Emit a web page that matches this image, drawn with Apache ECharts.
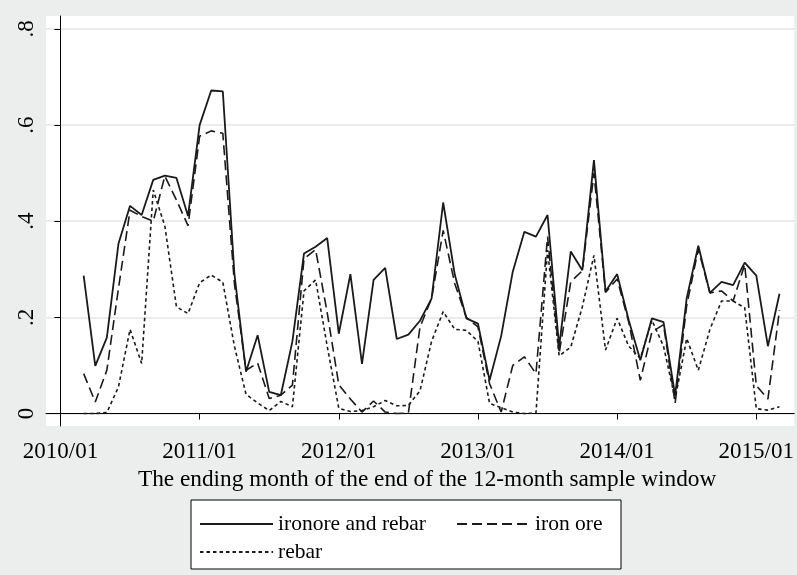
<!DOCTYPE html>
<html>
<head>
<meta charset="utf-8">
<script src="https://cdn.jsdelivr.net/npm/echarts@6/dist/echarts.min.js"></script>
<style>
  html, body { margin: 0; padding: 0; background: #eceeee; }
  #chart { width: 797px; height: 575px; }
</style>
</head>
<body>
<div id="chart"></div>
<script>
// Ending month of each 12-month sample window
const months = [
  '2010/03','2010/04','2010/05','2010/06','2010/07','2010/08','2010/09','2010/10','2010/11','2010/12',
  '2011/01','2011/02','2011/03','2011/04','2011/05','2011/06','2011/07','2011/08','2011/09','2011/10','2011/11','2011/12',
  '2012/01','2012/02','2012/03','2012/04','2012/05','2012/06','2012/07','2012/08','2012/09','2012/10','2012/11','2012/12',
  '2013/01','2013/02','2013/03','2013/04','2013/05','2013/06','2013/07','2013/08','2013/09','2013/10','2013/11','2013/12',
  '2014/01','2014/02','2014/03','2014/04','2014/05','2014/06','2014/07','2014/08','2014/09','2014/10','2014/11','2014/12',
  '2015/01','2015/02','2015/03'
];

const ironoreAndRebar = [
  0.287, 0.099, 0.158, 0.353, 0.432, 0.413, 0.486, 0.495, 0.490, 0.411,
  0.600, 0.672, 0.670, 0.290, 0.087, 0.163, 0.045, 0.038, 0.150, 0.333, 0.347, 0.365,
  0.166, 0.290, 0.103, 0.278, 0.303, 0.155, 0.164, 0.193, 0.239, 0.439, 0.289, 0.198,
  0.187, 0.069, 0.161, 0.295, 0.378, 0.368, 0.413, 0.139, 0.337, 0.298, 0.527, 0.254,
  0.290, 0.194, 0.111, 0.198, 0.190, 0.037, 0.240, 0.349, 0.251, 0.274, 0.267, 0.314,
  0.287, 0.140, 0.249
];

const ironOre = [
  0.083, 0.024, 0.090, 0.260, 0.423, 0.410, 0.400, 0.494, 0.444, 0.391,
  0.577, 0.588, 0.583, 0.270, 0.090, 0.105, 0.031, 0.038, 0.059, 0.322, 0.341, 0.210,
  0.060, 0.030, 0.003, 0.026, 0.003, 0.000, 0.001, 0.180, 0.239, 0.381, 0.270, 0.200,
  0.180, 0.062, 0.003, 0.100, 0.118, 0.083, 0.368, 0.125, 0.274, 0.297, 0.500, 0.252,
  0.280, 0.190, 0.069, 0.170, 0.185, 0.021, 0.225, 0.342, 0.251, 0.255, 0.234, 0.310,
  0.058, 0.030, 0.215
];

const rebar = [
  0.000, 0.000, 0.002, 0.055, 0.175, 0.104, 0.465, 0.390, 0.222, 0.208,
  0.272, 0.288, 0.273, 0.140, 0.040, 0.022, 0.006, 0.025, 0.014, 0.255, 0.278, 0.140,
  0.011, 0.004, 0.006, 0.014, 0.027, 0.016, 0.017, 0.047, 0.150, 0.212, 0.175, 0.173,
  0.150, 0.021, 0.012, 0.003, 0.000, 0.001, 0.340, 0.120, 0.138, 0.222, 0.329, 0.132,
  0.198, 0.140, 0.115, 0.194, 0.140, 0.030, 0.156, 0.090, 0.175, 0.234, 0.234, 0.220,
  0.010, 0.007, 0.014
];

const seriesNames = ['ironore and rebar', 'iron ore', 'rebar'];

// Axis ticks (x counted in months after 2010/01)
const xTickValues = [0, 12, 24, 36, 48, 60];
const xTickLabels = ['2010/01', '2011/01', '2012/01', '2013/01', '2014/01', '2015/01'];
const yTickValues = [0, 0.2, 0.4, 0.6, 0.8];
const yTickLabels = ['0', '.2', '.4', '.6', '.8'];
const xTitle = 'The ending month of the end of the 12-month sample window';

const FONT = 'Liberation Serif';
const INK = '#1a1a1a';

function monthIndex(s) {
  return (parseInt(s.slice(0, 4), 10) - 2010) * 12 + parseInt(s.slice(5, 7), 10) - 1;
}
function pairs(values) {
  return months.map((m, i) => [monthIndex(m), values[i]]);
}
function labelFor(values, labels) {
  return function (v) {
    for (let i = 0; i < values.length; i++) {
      if (Math.abs(values[i] - v) < 1e-6) return labels[i];
    }
    return '';
  };
}

const chart = echarts.init(document.getElementById('chart'), null, { renderer: 'canvas' });

const legendCommon = {
  itemWidth: 73, itemHeight: 14, itemGap: 30, z: 5,
  itemStyle: { opacity: 0 },
  textStyle: { fontFamily: FONT, fontSize: 21.5, color: '#000', lineHeight: 24 }
};

chart.setOption({
  animation: false,
  backgroundColor: '#eceeee',
  textStyle: { fontFamily: FONT },
  grid: {
    left: 46, right: 1, top: 16, bottom: 149,
    show: true, backgroundColor: '#ffffff', borderWidth: 0
  },
  xAxis: {
    type: 'value',
    min: -1.247, max: 63.27,
    axisLine: { show: true, lineStyle: { color: '#000', width: 1 } },
    axisTick: { show: true, length: 6, customValues: xTickValues, lineStyle: { color: '#000' } },
    axisLabel: {
      customValues: xTickValues,
      formatter: labelFor(xTickValues, xTickLabels),
      fontFamily: FONT, fontSize: 23, color: '#000', margin: 14
    },
    splitLine: { show: false },
    name: xTitle,
    nameLocation: 'middle',
    nameGap: 38,
    nameTextStyle: { fontFamily: FONT, fontSize: 23.3, color: '#000', padding: [0, 0, 0, 14] }
  },
  yAxis: {
    type: 'value',
    min: -0.026, max: 0.827,
    axisLine: { show: true, lineStyle: { color: '#000', width: 1 } },
    axisTick: { show: true, length: 6, customValues: yTickValues, lineStyle: { color: '#000' } },
    axisLabel: {
      customValues: yTickValues,
      formatter: labelFor(yTickValues, yTickLabels),
      rotate: 90,
      fontFamily: FONT, fontSize: 23, color: '#000', margin: 8
    },
    splitLine: { show: true, lineStyle: { color: '#e6e6e6', width: 1.5 } }
  },
  graphic: [{
    type: 'rect', z: 0,
    shape: { x: 191, y: 500, width: 430, height: 69 },
    style: { fill: '#ffffff', stroke: '#000', lineWidth: 1 }
  }],
  legend: [
    Object.assign({ data: [seriesNames[0], seriesNames[1]], left: 194, top: 507 }, legendCommon),
    Object.assign({ data: [seriesNames[2]], left: 194, top: 535 }, legendCommon)
  ],
  series: [{
    name: seriesNames[0], type: 'line', symbol: 'none', showSymbol: false,
    data: pairs(ironoreAndRebar),
    lineStyle: { color: INK, width: 1.8, type: 'solid' }, z: 4
  }, {
    name: seriesNames[1], type: 'line', symbol: 'none', showSymbol: false,
    data: pairs(ironOre),
    lineStyle: { color: INK, width: 1.6, type: [10, 5] }, z: 3
  }, {
    name: seriesNames[2], type: 'line', symbol: 'none', showSymbol: false,
    data: pairs(rebar),
    lineStyle: { color: INK, width: 1.6, type: [3.5, 3] }, z: 2
  }]
});
</script>
</body>
</html>
